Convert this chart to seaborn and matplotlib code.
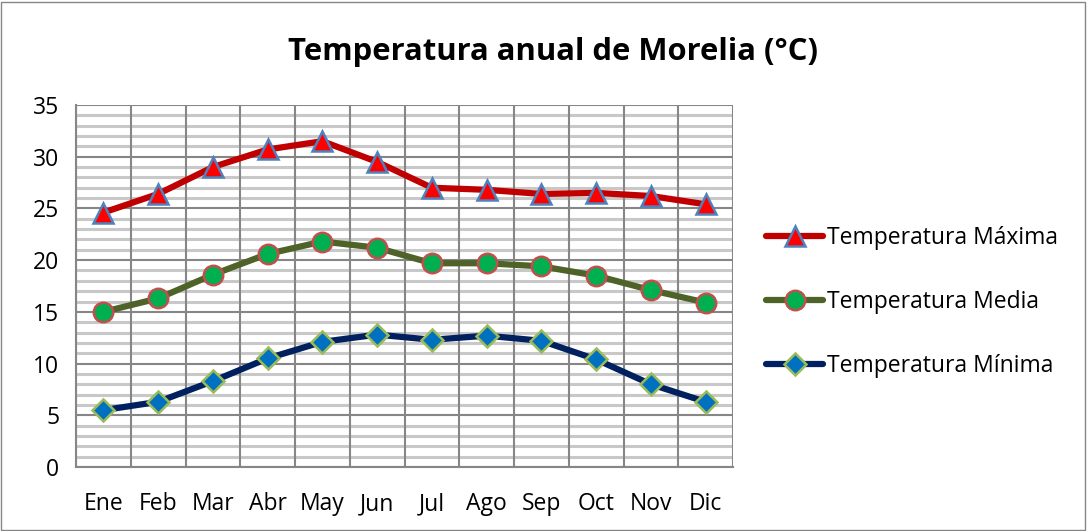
import pandas as pd
import seaborn as sns
import matplotlib.pyplot as plt
from matplotlib.lines import Line2D
from matplotlib.patches import Rectangle

meses = ["Ene", "Feb", "Mar", "Abr", "May", "Jun", "Jul", "Ago", "Sep", "Oct", "Nov", "Dic"]
t_max = [24.6, 26.4, 29.0, 30.7, 31.5, 29.5, 27.0, 26.8, 26.4, 26.5, 26.2, 25.4]
t_media = [15.0, 16.3, 18.6, 20.6, 21.8, 21.2, 19.7, 19.7, 19.4, 18.5, 17.1, 15.9]
t_min = [5.5, 6.3, 8.3, 10.5, 12.1, 12.8, 12.3, 12.7, 12.2, 10.4, 8.0, 6.3]

series = [
    ("Temperatura Máxima", t_max, "#C00000", "^", "#FF0000", "#4F81BD", 15),
    ("Temperatura Media", t_media, "#4F6228", "o", "#00B050", "#C0504D", 14),
    ("Temperatura Mínima", t_min, "#002060", "D", "#0070C0", "#9BBB59", 11),
]

sns.set_style("white")
plt.rcParams["font.family"] = ["Open Sans", "DejaVu Sans"]
plt.rcParams["text.color"] = "black"
plt.rcParams["xtick.labelcolor"] = "black"
plt.rcParams["ytick.labelcolor"] = "black"

fig = plt.figure(figsize=(10.87, 5.31), dpi=100)
ax = fig.add_axes([76 / 1087, 1 - 467 / 531, (733 - 76) / 1087, (467 - 105) / 531])

# outer chart border
fig.patches.append(Rectangle((0.001, 0.002), 0.997, 0.995, transform=fig.transFigure,
                             fill=False, edgecolor="#868686", linewidth=1))

# gridlines
for v in range(36):
    if v % 5 == 0:
        continue
    ax.axhline(v, color="#C8C8C8", linewidth=2.2, zorder=0)
for v in range(0, 36, 5):
    ax.axhline(v, color="#868686", linewidth=1.5, zorder=0)
for i in range(13):
    ax.axvline(i - 0.5, color="#868686", linewidth=1.5, zorder=0)

handles = []
for name, vals, lc, mk, mf, me, ms in series:
    df = pd.DataFrame({"mes": meses, "temp": vals})
    sns.lineplot(data=df, x="mes", y="temp", ax=ax, color=lc, linewidth=4.5, sort=False,
                 marker=mk, markersize=ms, markerfacecolor=mf, markeredgecolor=me,
                 markeredgewidth=1.8, zorder=3)
    handles.append(Line2D([0], [0], color=lc, linewidth=4.5, marker=mk, markersize=ms,
                          markerfacecolor=mf, markeredgecolor=me, markeredgewidth=1.8,
                          label=name))

ax.set_xlim(-0.5, 11.5)
ax.set_ylim(0, 35)
ax.set_yticks(range(0, 36, 5))
ax.set_xticks(range(12))
ax.set_xticklabels(meses)
ax.set_xticks([i - 0.5 for i in range(13)], minor=True)
ax.tick_params(axis="x", which="major", length=0, labelsize=16.5, pad=18)
ax.tick_params(axis="x", which="minor", length=7, width=1.5, color="#868686")
ax.tick_params(axis="y", length=7, width=1.5, color="#868686", labelsize=16.5, pad=5)
ax.set_xlabel("")
ax.set_ylabel("")
for s in ["top", "right"]:
    ax.spines[s].set_visible(False)
for s in ["left", "bottom"]:
    ax.spines[s].set_color("#868686")
    ax.spines[s].set_linewidth(1.5)

fig.text(0.509, 1 - 52 / 531, "Temperatura anual de Morelia (°C)", ha="center", va="center",
         fontsize=22.3, fontweight="bold", color="black")

fig.legend(handles=handles, loc="center left", bbox_to_anchor=(757 / 1087, 1 - 302 / 531),
           frameon=False, fontsize=16.5, handlelength=2.5, labelspacing=1.75,
           handletextpad=0.15, borderaxespad=0)

plt.savefig("out.png", dpi=100)
plt.close()
